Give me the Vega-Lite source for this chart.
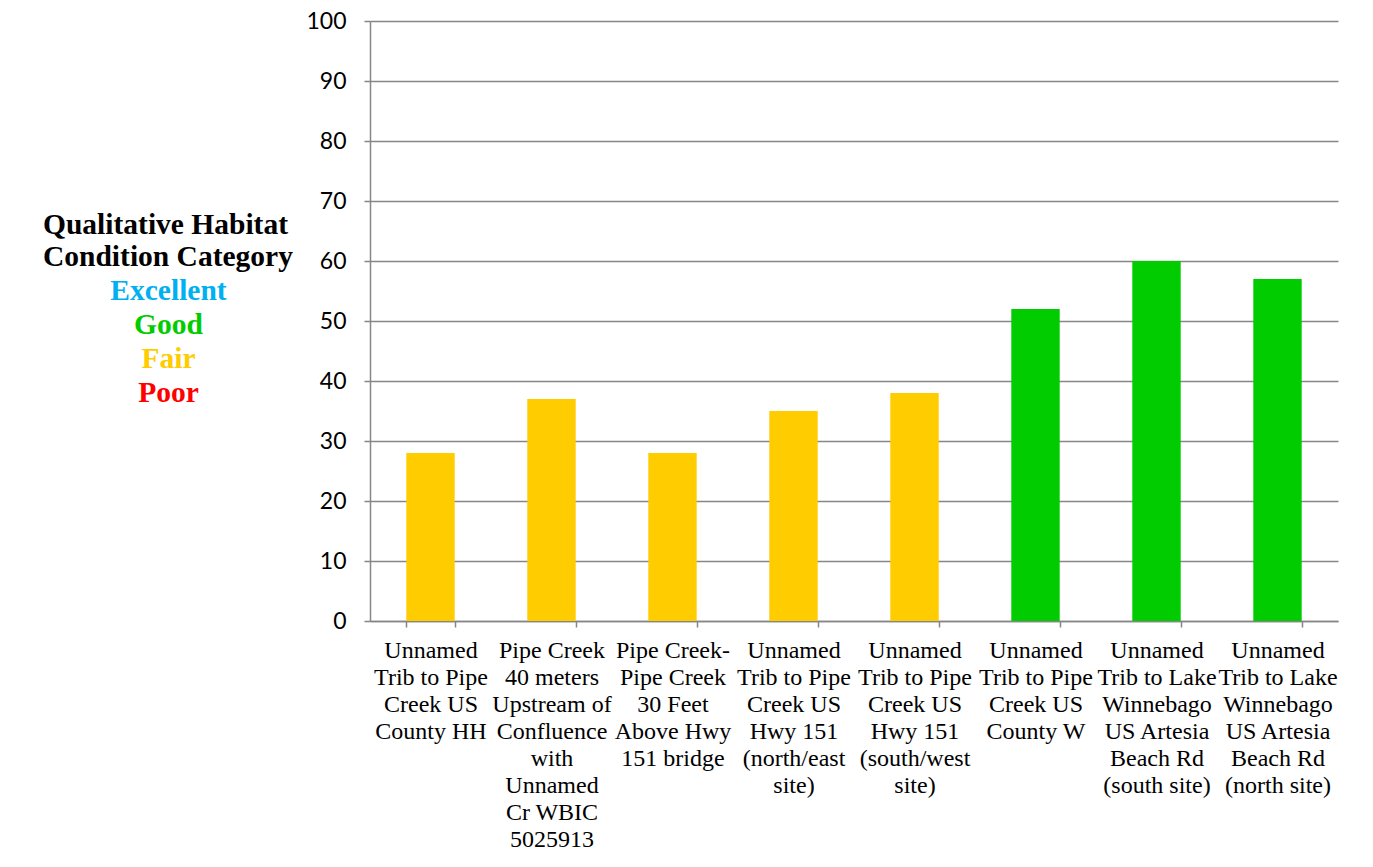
{
  "$schema": "https://vega.github.io/schema/vega-lite/v6.json",
  "width": 968,
  "height": 600,
  "autosize": {"type": "none"},
  "padding": {"left": 370, "top": 21, "right": 35, "bottom": 246},
  "background": "white",
  "data": {
    "values": [
      {"site": "Unnamed\nTrib to Pipe\nCreek US\nCounty HH", "score": 28, "category": "Fair"},
      {"site": "Pipe Creek\n40 meters\nUpstream of\nConfluence\nwith\nUnnamed\nCr WBIC\n5025913", "score": 37, "category": "Fair"},
      {"site": "Pipe Creek-\nPipe Creek\n30 Feet\nAbove Hwy\n151 bridge", "score": 28, "category": "Fair"},
      {"site": "Unnamed\nTrib to Pipe\nCreek US\nHwy 151\n(north/east\nsite)", "score": 35, "category": "Fair"},
      {"site": "Unnamed\nTrib to Pipe\nCreek US\nHwy 151\n(south/west\nsite)", "score": 38, "category": "Fair"},
      {"site": "Unnamed\nTrib to Pipe\nCreek US\nCounty W", "score": 52, "category": "Good"},
      {"site": "Unnamed\nTrib to Lake\nWinnebago\nUS Artesia\nBeach Rd\n(south site)", "score": 60, "category": "Good"},
      {"site": "Unnamed\nTrib to Lake\nWinnebago\nUS Artesia\nBeach Rd\n(north site)", "score": 57, "category": "Good"}
    ]
  },
  "mark": {"type": "bar"},
  "encoding": {
    "x": {
      "field": "site",
      "type": "nominal",
      "sort": null,
      "scale": {"paddingInner": 0.6, "paddingOuter": 0.3},
      "axis": {
        "title": null,
        "labelAngle": 0,
        "labelExpr": "split(datum.label, '\\n')",
        "labelFont": "Liberation Serif",
        "labelFontSize": 24,
        "labelLineHeight": 27,
        "labelColor": "black",
        "labelPadding": 11,
        "labelLimit": 0,
        "labelOverlap": false,
        "tickBand": "extent",
        "tickSize": 6,
        "tickColor": "#868686",
        "tickWidth": 1.5,
        "domainColor": "#868686",
        "domainWidth": 1.5
      }
    },
    "y": {
      "field": "score",
      "type": "quantitative",
      "scale": {"domain": [0, 100]},
      "axis": {
        "title": null,
        "values": [0, 10, 20, 30, 40, 50, 60, 70, 80, 90, 100],
        "labelFont": "Lato",
        "labelFontSize": 23,
        "labelColor": "black",
        "labelPadding": 18,
        "tickSize": 6,
        "tickColor": "#868686",
        "tickWidth": 1.5,
        "domainColor": "#868686",
        "domainWidth": 1.5,
        "grid": true,
        "gridColor": "#868686",
        "gridWidth": 1.5
      }
    },
    "color": {
      "field": "category",
      "type": "nominal",
      "scale": {
        "domain": ["Excellent", "Good", "Fair", "Poor"],
        "range": ["#00B0F0", "#00CC00", "#FFCC00", "#FF0000"]
      },
      "legend": {
        "title": ["Qualitative Habitat", "Condition Category"],
        "orient": "none",
        "legendX": -327,
        "legendY": 190,
        "titleFont": "Liberation Serif",
        "titleFontSize": 29.5,
        "titleFontWeight": "bold",
        "titleColor": "black",
        "titleLineHeight": 32,
        "titlePadding": 4,
        "titleAlign": "left",
        "titleLimit": 0,
        "labelFont": "Liberation Serif",
        "labelFontSize": 29.5,
        "labelFontWeight": "bold",
        "labelAlign": "center",
        "labelOffset": 96,
        "labelLimit": 0,
        "symbolSize": 0,
        "symbolOpacity": 0,
        "symbolStrokeWidth": 0,
        "rowPadding": 2.8,
        "encode": {
          "title": {"update": {"font": {"value": "Liberation Serif"}}},
          "labels": {"update": {"fill": {"signal": "scale('color', datum.value)"}}}
        }
      }
    }
  },
  "config": {
    "view": {"stroke": null},
    "legend": {"titleFont": "Liberation Serif"}
  }
}
